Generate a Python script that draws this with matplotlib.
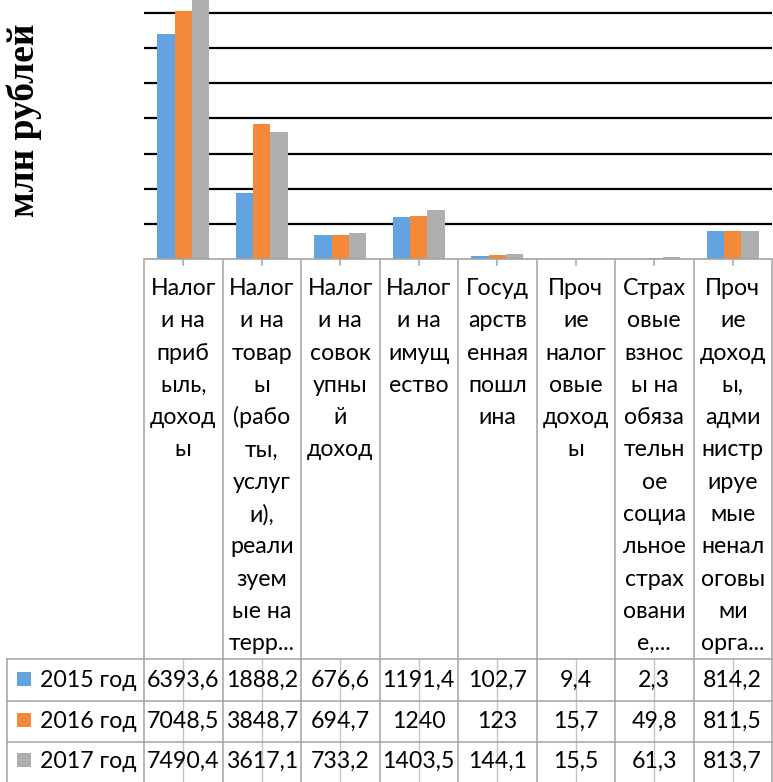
import matplotlib
matplotlib.use("Agg")
import matplotlib.pyplot as plt
from matplotlib.patches import Rectangle

# данные
categories = [
    "Налог\nи на\nприб\nыль,\nдоход\nы",
    "Налог\nи на\nтовар\nы\n(рабо\nты,\nуслуг\nи),\nреали\nзуем\nые на\nтерр...",
    "Налог\nи на\nсовок\nупны\nй\nдоход",
    "Налог\nи на\nимущ\nество",
    "Госуд\nарств\nенная\nпошл\nина",
    "Проч\nие\nналог\nовые\nдоход\nы",
    "Страх\nовые\nвзнос\nы на\nобяза\nтельн\nое\nсоциа\nльное\nстрах\nовани\nе,...",
    "Проч\nие\nдоход\nы,\nадми\nнистр\nируе\nмые\nненал\nоговы\nми\nорга...",
]
series_names = ["2015 год", "2016 год", "2017 год"]
values_2015 = [6393.6, 1888.2, 676.6, 1191.4, 102.7, 9.4, 2.3, 814.2]
values_2016 = [7048.5, 3848.7, 694.7, 1240.0, 123.0, 15.7, 49.8, 811.5]
values_2017 = [7490.4, 3617.1, 733.2, 1403.5, 144.1, 15.5, 61.3, 813.7]
colors = ["#62a3e0", "#f5893a", "#afafaf"]

W, H = 773, 782
AXIS_Y = 259.3        # положение нулевой линии, px сверху
COL_L, COL_R = 144, 772
ncat = len(categories)
cw = (COL_R - COL_L) / ncat

plt.rcParams['font.family'] = ['Lato', 'DejaVu Sans']
fs = 16.7
line_c = "#a3a3a3"

fig = plt.figure(figsize=(W / 100, H / 100), dpi=100)

ax = fig.add_axes([COL_L / W, (H - AXIS_Y) / H, (COL_R - COL_L) / W, AXIS_Y / H])
series = [values_2015, values_2016, values_2017]
bw = 1 / 4.5
for k, vals in enumerate(series):
    xs = [i + (k - 1) * bw for i in range(ncat)]
    ax.bar(xs, vals, width=bw, color=colors[k], linewidth=0, zorder=2)

ax.set_xlim(-0.5, ncat - 0.5)
ax.set_ylim(0, 1000 * AXIS_Y / 35.23)
ax.set_yticks(range(1000, 8000, 1000))
ax.yaxis.grid(True, color="black", linewidth=1.6, zorder=1)
ax.set_axisbelow(True)
ax.tick_params(left=False, bottom=False, labelleft=False, labelbottom=False)
for s in ["left", "right", "top"]:
    ax.spines[s].set_visible(False)
ax.spines["bottom"].set_color(line_c)
ax.spines["bottom"].set_linewidth(1.2)
ax.patch.set_alpha(0)

# таблица данных под осью
tab = fig.add_axes([0, 0, 1, (H - AXIS_Y) / H])
tab.set_xlim(-0.5 - COL_L / cw, ncat - 0.5 + (W - COL_R) / cw)
tab.set_ylim(H, AXIS_Y)
tab.axis("off")

row_top = 659
row_lines = [659, 701, 742, 784]
row_base = [687, 728, 768]
tab_left = -0.5 - (COL_L - 7) / cw

# границы столбцов
for i in range(ncat + 1):
    tab.plot([i - 0.5, i - 0.5], [AXIS_Y, H], color=line_c, lw=1.1)
# средние засечки
for i in range(ncat):
    tab.plot([i, i], [AXIS_Y - 6, AXIS_Y + 6], color=line_c, lw=1.1)
    tab.plot([i, i], [row_top, H], color="#c4c4c4", lw=1.0)
tab.plot([tab_left, tab_left], [row_top, H], color=line_c, lw=1.1)
for y in row_lines:
    tab.plot([tab_left, ncat - 0.5], [y, y], color=line_c, lw=1.1)

# подписи категорий
for i, lab in enumerate(categories):
    for j, part in enumerate(lab.split("\n")):
        tab.text(i, 295 + 32.3 * j, part, ha="center", va="baseline",
                 fontsize=fs, color="black")

# строки значений
for k, vals in enumerate(series):
    y = row_base[k]
    sq = 14 / cw
    tab.add_patch(Rectangle((tab_left + 10 / cw, y - 15), sq, 14,
                            color=colors[k], lw=0))
    tab.text(tab_left + 33 / cw, y, series_names[k], ha="left", va="baseline",
             fontsize=fs, color="black")
    for i, v in enumerate(vals):
        tab.text(i, y, f"{v:g}".replace(".", ","), ha="center", va="baseline",
                 fontsize=fs, color="black")

fig.text(24 / W, 1 - 120 / H, "млн рублей", rotation=90, ha="center", va="center",
         fontsize=27, fontweight="bold", family="Liberation Serif")

fig.savefig("out.png", dpi=100)
